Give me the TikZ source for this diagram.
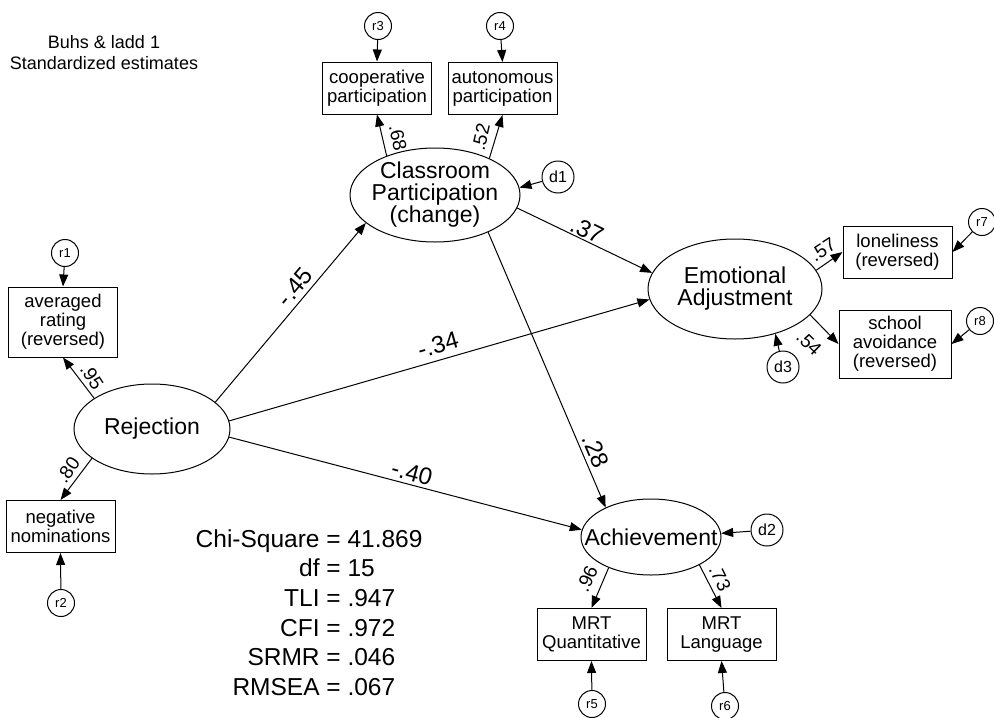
\documentclass[tikz,border=0pt]{standalone}
\usepackage{fontspec}
\setmainfont{Liberation Sans}
\usetikzlibrary{shapes.geometric,arrows.meta}

\newcommand\fsz[2]{\fontsize{#1}{#2}\selectfont}

\begin{document}
\begin{tikzpicture}[x=1pt,y=-1pt,
  line width=1pt,
  arr/.style={-{Triangle[length=12pt,width=9pt]}},
  latent/.style={draw, ellipse, inner sep=0pt},
  latentlbl/.style={align=center, inner sep=0pt, font=\fsz{23}{22}},
  obs/.style={draw, rectangle, align=center, inner sep=0pt,
              minimum width=109pt, minimum height=52pt, font=\fsz{18.5}{19}},
  resid/.style={draw, circle, inner sep=0pt, minimum size=27pt, font=\fsz{13}{13}},
  dist/.style={draw, circle, inner sep=0pt, minimum size=32pt, font=\fsz{16}{16}},
  coef/.style={inner sep=0pt, font=\fsz{24}{24}},
  load/.style={inner sep=0pt, font=\fsz{19}{19}},
]
\useasboundingbox (0,0) rectangle (994,718);

% heading
\node[align=center, font=\fsz{18}{21}] (title) at (104,53)
  {Buhs \& ladd 1\\Standardized estimates};

% latent variables
\node[latent, minimum width=156pt, minimum height=90pt,
      label={[latentlbl, name=rejtxt]center:{Rejection}}] (rej) at (152,429) {};
\node[latent, minimum width=170pt, minimum height=94pt,
      label={[latentlbl, name=cptxt]center:{Classroom\\Participation\\(change)}}] (cp) at (435,195) {};
\node[latent, minimum width=174pt, minimum height=100pt,
      label={[latentlbl, name=eatxt]center:{Emotional\\Adjustment}}] (ea) at (735,289) {};
\node[latent, minimum width=140pt, minimum height=76pt,
      label={[latentlbl, name=achtxt]center:{Achievement}}] (ach) at (651,537) {};

% indicators
\node[obs, minimum height=70pt] (avg) at (63,322) {averaged\\rating\\(reversed)};
\node[obs] (neg) at (60.5,526.5) {negative\\nominations};
\node[obs] (coop) at (377,88) {cooperative\\participation};
\node[obs] (auto) at (502.5,88.5) {autonomous\\participation};
\node[obs] (lone) at (897.5,252) {loneliness\\(reversed)};
\node[obs, minimum width=112pt, minimum height=68pt] (avoid) at (895,344) {school\\avoidance\\(reversed)};
\node[obs] (quant) at (591.5,634.5) {MRT\\Quantitative};
\node[obs] (lang) at (721.5,634.5) {MRT\\Language};

% residuals and disturbances
\node[resid] (r1) at (65,253) {r1};
\node[resid] (r2) at (61,603) {r2};
\node[resid] (r3) at (378,26) {r3};
\node[resid] (r4) at (500,26) {r4};
\node[resid] (r5) at (592,704) {r5};
\node[resid] (r6) at (725,706) {r6};
\node[resid] (r7) at (982,222) {r7};
\node[resid] (r8) at (980,321) {r8};
\node[dist] (d1) at (558,177) {d1};
\node[dist] (d2) at (767,530) {d2};
\node[dist] (d3) at (783,367) {d3};

% error paths
\draw[arr] (r1) -- (avg.north);
\draw[arr] (r2) -- (neg.south);
\draw[arr] (r3) -- (coop.north);
\draw[arr] (r4) -- (auto.north);
\draw[arr] (r5) -- (quant.south);
\draw[arr] (r6) -- (lang.south);
\draw[arr] (r7) -- (lone.east);
\draw[arr] (r8) -- (avoid.east);
\draw[arr] (d1) -- (cp.5);
\draw[arr] (d2) -- (ach.3);
\draw[arr] (d3) -- (ea.-48);

% measurement paths
\draw[arr] (rej.152) -- (avg.south);
\draw[arr] (rej.206) -- (neg.north);
\draw[arr] (cp.141) -- (coop.south);
\draw[arr] (cp.34) -- (auto.south);
\draw[arr] (ea.13) -- (lone.west);
\draw[arr] (ea.-19) -- (avoid.west);
\draw[arr] (ach.216) -- (quant.north);
\draw[arr] (ach.-30) -- (lang.north);

% structural paths
\draw[arr] (rej.23) -- (cp.202);
\draw[arr] (rej.6) -- (ea.187);
\draw[arr] (rej.-6) -- (ach.174);
\draw[arr] (cp.-9) -- (ea.169);
\draw[arr] (cp.-35) -- (ach.147);

% path coefficients
\node[coef, rotate=50] (b1) at (295,287) {-.45};
\node[coef, rotate=-26] (b2) at (587,230) {.37};
\node[coef, rotate=16] (b3) at (438,345) {-.34};
\node[coef, rotate=-15] (b4) at (412,473) {-.40};
\node[coef, rotate=-67] (b5) at (596,451) {.28};

% loadings
\node[load, rotate=-78] (l1) at (398,138) {.68};
\node[load, rotate=77] (l2) at (481,137) {.52};
\node[load, rotate=-57] (l3) at (92,377) {.95};
\node[load, rotate=55] (l4) at (68,470) {.80};
\node[load, rotate=33] (l5) at (823,250) {.57};
\node[load, rotate=-44] (l6) at (809,343) {.54};
\node[load, rotate=66] (l7) at (587,579) {.96};
\node[load, rotate=-64] (l8) at (720,578) {.73};

% fit statistics
\node[anchor=base east, inner sep=0pt, font=\fsz{24.5}{29.7}] (fitstats) at (423,547)
  {\begin{tabular}[t]{@{}r@{\ =\ }l@{}}
   Chi-Square & 41.869\\
   df & 15\\
   TLI & .947\\
   CFI & .972\\
   SRMR & .046\\
   RMSEA & .067
   \end{tabular}};
\end{tikzpicture}
\end{document}
